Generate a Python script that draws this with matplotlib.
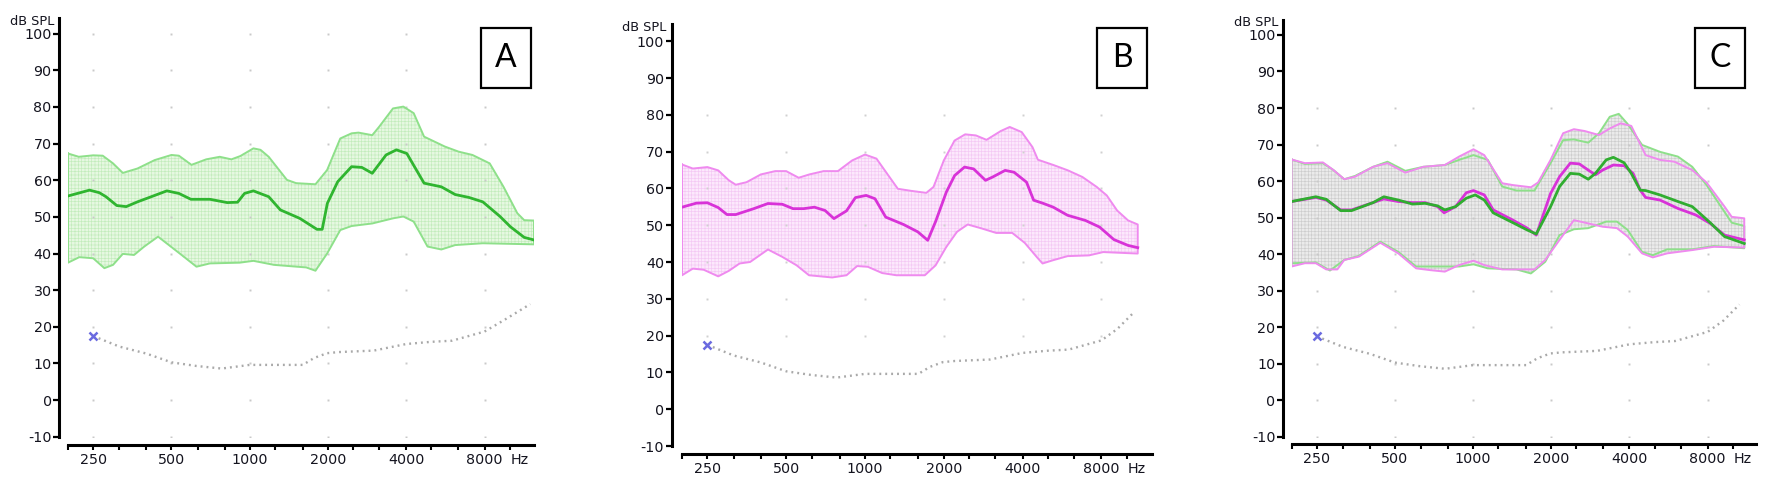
import matplotlib
matplotlib.use('Agg')
import matplotlib.pyplot as plt
from matplotlib.ticker import FixedLocator, FixedFormatter, NullLocator
from matplotlib.patches import Rectangle

plt.rcParams['font.family'] = ['DejaVu Sans']
plt.rcParams['hatch.linewidth'] = 0.45

# ---------------- data (Hz, dB SPL) ----------------
# panel A : green band
A_up_f = [200, 220, 250, 272, 298, 325, 370, 431, 500, 534, 597, 680, 767, 850, 920, 1033, 1100, 1183, 1390, 1510,
          1790, 1985, 2230, 2464, 2620, 2960, 3147, 3557, 3898, 4273, 4684, 5627, 6360, 7189, 8375, 9467, 10697, 11370, 12400]
A_up_db = [67.3, 66.4, 66.8, 66.7, 64.6, 62.0, 63.2, 65.5, 66.9, 66.7, 64.2, 65.7, 66.4, 65.7, 66.6, 68.7, 68.3, 66.4, 60.1, 59.2,
           58.9, 62.8, 71.4, 72.8, 73.0, 72.3, 74.6, 79.6, 80.1, 78.3, 71.9, 69.2, 67.8, 66.9, 64.6, 58.2, 51.0, 49.1, 49.0]
A_mid_f = [200, 242, 264, 280, 308, 335, 370, 418, 480, 534, 594, 703, 819, 898, 955, 1033, 1183, 1312, 1557, 1814,
           1900, 1989, 2180, 2464, 2700, 2960, 3345, 3667, 4020, 4684, 5458, 6168, 6970, 7878, 9181, 10063, 11370, 12400]
A_mid_db = [55.7, 57.3, 56.6, 55.5, 53.1, 52.8, 54.1, 55.5, 57.1, 56.4, 54.8, 54.8, 53.9, 54.0, 56.4, 57.1, 55.5, 51.9, 49.6, 46.6,
            46.6, 53.7, 59.6, 63.7, 63.5, 61.9, 66.9, 68.3, 67.3, 59.2, 58.2, 56.1, 55.3, 54.1, 50.1, 47.3, 44.4, 43.7]
A_lo_f = [200, 221, 250, 276, 298, 325, 359, 393, 444, 538, 624, 703, 915, 1033, 1240, 1650, 1790, 1985, 2230, 2464,
          2960, 3557, 3898, 4273, 4829, 5458, 6168, 7878, 12400]
A_lo_db = [37.5, 39.0, 38.7, 36.0, 36.9, 39.9, 39.6, 41.9, 44.6, 40.0, 36.4, 37.3, 37.5, 38.0, 36.9, 36.2, 35.3, 40.0, 46.4, 47.5,
           48.2, 49.6, 50.1, 48.7, 41.9, 41.1, 42.3, 42.8, 42.5]

# panel B : magenta band
B_up_f = [200, 220, 250, 275, 302, 321, 353, 400, 454, 500, 558, 613, 695, 788, 893, 1000, 1106, 1215, 1335, 1513,
          1715, 1827, 2000, 2198, 2414, 2652, 2913, 3302, 3572, 3970, 4365, 4576, 5274, 5960, 6771, 7678, 8384, 9185, 10115, 11010]
B_up_db = [66.5, 65.4, 65.8, 64.9, 62.2, 61.0, 61.7, 63.8, 64.7, 64.7, 62.9, 63.8, 64.7, 64.7, 67.6, 69.2, 68.1, 64.0, 59.9, 59.3,
           58.8, 60.4, 67.6, 73.0, 74.7, 74.4, 73.2, 75.6, 76.7, 75.3, 71.2, 67.8, 66.3, 64.9, 63.1, 60.4, 58.1, 54.0, 51.3, 50.2]
B_mid_f = [200, 227, 250, 275, 297, 321, 376, 426, 483, 531, 583, 641, 704, 761, 850, 919, 1010, 1092, 1200, 1403,
           1591, 1737, 1861, 2045, 2200, 2400, 2600, 2886, 3074, 3430, 3709, 4140, 4408, 4767, 5237, 5940, 6946, 7872, 8927, 10119, 11010]
B_mid_db = [54.9, 56.0, 56.1, 54.8, 52.9, 52.9, 54.5, 55.9, 55.7, 54.5, 54.5, 54.9, 54.0, 51.8, 53.9, 57.5, 58.1, 57.2, 52.2, 50.2,
            48.2, 45.9, 51.0, 59.0, 63.5, 65.8, 65.3, 62.2, 63.1, 64.9, 64.4, 61.7, 56.8, 56.0, 54.9, 52.7, 51.3, 49.5, 46.1, 44.5, 43.9]
B_lo_f = [200, 220, 242, 275, 302, 332, 364, 426, 483, 548, 611, 749, 850, 933, 1025, 1163, 1318, 1693, 1861, 2045,
          2246, 2468, 2797, 3171, 3652, 4076, 4550, 4767, 5237, 5940, 7170, 8127, 11010]
B_lo_db = [36.4, 38.2, 37.9, 36.1, 37.6, 39.6, 40.0, 43.4, 41.4, 39.1, 36.4, 35.8, 36.4, 38.9, 38.7, 37.0, 36.4, 36.4, 39.1, 44.1,
           48.2, 50.2, 49.1, 47.9, 47.9, 45.2, 41.2, 39.6, 40.5, 41.6, 41.8, 42.7, 42.3]

# panel C : both bands overlaid
Cm_up_f = [200, 225, 264, 290, 319, 351, 412, 468, 548, 643, 778, 883, 1003, 1104, 1294, 1423, 1669, 1778, 1987, 2221,
           2444, 2688, 3053, 3358, 3695, 4064, 4615, 5241, 5952, 6978, 7923, 9290, 9900, 11065]
Cm_up_db = [65.9, 64.9, 65.1, 63.0, 60.5, 61.2, 63.9, 64.9, 62.3, 63.9, 64.4, 66.7, 68.7, 67.1, 59.4, 58.9, 58.3, 59.6, 65.8, 73.1,
            74.2, 73.7, 72.6, 74.4, 75.8, 75.1, 67.1, 65.8, 65.3, 63.0, 59.6, 53.0, 50.2, 49.8]
Cg_up_f = [200, 225, 264, 290, 319, 351, 412, 468, 548, 643, 778, 883, 1003, 1139, 1294, 1469, 1723, 1987, 2221, 2444,
           2775, 3053, 3358, 3636, 3937, 4471, 5241, 6145, 6978, 7923, 9000, 9900, 11065]
Cg_up_db = [65.9, 64.7, 64.9, 63.0, 60.5, 61.4, 63.9, 65.3, 62.8, 63.9, 64.4, 65.8, 67.1, 65.8, 58.5, 57.4, 57.4, 64.9, 71.2, 71.4,
            70.5, 73.1, 77.6, 78.4, 75.6, 69.9, 68.0, 66.7, 63.9, 58.9, 53.0, 48.6, 47.7]
Cm_mid_f = [200, 248, 272, 309, 340, 412, 453, 515, 584, 653, 730, 773, 856, 941, 1003, 1104, 1195, 1423, 1616, 1750,
            1987, 2152, 2367, 2563, 2775, 2957, 3151, 3467, 3814, 4129, 4400, 4615, 5241, 6145, 7205, 8181, 9290, 11065]
Cm_mid_db = [54.4, 55.5, 54.8, 52.1, 52.1, 54.1, 55.1, 54.4, 54.1, 54.1, 53.0, 51.3, 53.0, 56.8, 57.4, 56.2, 52.1, 49.3, 47.1, 45.2,
             56.6, 61.2, 64.9, 64.7, 63.0, 61.7, 63.0, 64.4, 64.2, 62.1, 57.5, 55.5, 54.8, 52.5, 50.7, 48.4, 45.2, 43.9]
Cg_mid_f = [200, 248, 272, 309, 340, 412, 453, 515, 584, 653, 730, 778, 856, 941, 1019, 1104, 1195, 1423, 1616, 1750,
            1987, 2152, 2367, 2563, 2775, 2957, 3253, 3467, 3814, 4064, 4400, 4615, 5241, 6145, 6978, 8181, 9290, 11065]
Cg_mid_db = [54.4, 55.7, 55.0, 51.9, 51.9, 54.1, 55.7, 54.8, 53.7, 53.9, 53.2, 52.1, 53.0, 55.3, 56.2, 54.8, 51.3, 48.6, 46.6, 45.5,
             53.0, 58.5, 62.1, 61.9, 60.5, 62.1, 65.8, 66.5, 65.0, 62.1, 57.5, 57.4, 56.2, 54.4, 53.0, 48.6, 44.8, 42.9]
Cm_lo_f = [200, 225, 248, 272, 300, 319, 363, 439, 515, 603, 685, 778, 883, 1003, 1104, 1294, 1723, 1895, 2152, 2444,
           2775, 3151, 3579, 3937, 4471, 4918, 5585, 6978, 8445, 11065]
Cm_lo_db = [36.6, 37.5, 37.5, 35.8, 35.8, 38.4, 39.3, 43.1, 40.2, 36.1, 35.6, 35.2, 37.0, 38.2, 37.0, 35.8, 35.8, 38.4, 43.9, 49.3,
            48.4, 47.5, 47.1, 44.8, 40.2, 39.1, 40.2, 41.1, 42.0, 41.8]
Cg_lo_f = [200, 248, 281, 319, 363, 439, 515, 603, 685, 883, 1003, 1139, 1469, 1669, 1895, 2152, 2444, 2775, 3253, 3579,
           3937, 4471, 4918, 5585, 6978, 8445, 11065]
Cg_lo_db = [37.5, 37.7, 35.5, 38.4, 39.5, 43.4, 40.6, 36.6, 36.6, 36.6, 37.2, 36.1, 35.8, 34.7, 37.9, 45.2, 46.8, 47.1, 48.9, 48.9,
            46.6, 40.6, 39.7, 41.3, 41.3, 42.2, 41.6]

# threshold (dotted grey line, first point marked with x)
thr_f_a = [250, 264, 315, 400, 500, 624, 780, 1000, 1240, 1600, 1770, 1985, 2200, 3000, 4000, 5000, 6000, 8000, 9500, 12000]
thr_f_bc = [250, 264, 315, 400, 500, 624, 780, 1000, 1240, 1600, 1770, 1985, 2200, 3000, 4000, 5000, 6000, 8000, 9200, 10600]
thr_db = [17.5, 16.8, 14.6, 12.7, 10.3, 9.3, 8.6, 9.6, 9.6, 9.6, 11.5, 12.8, 13.1, 13.5, 15.3, 15.9, 16.2, 18.7, 21.8, 26.2]

tick_f = [200, 250, 315, 400, 500, 630, 800, 1000, 1250, 1600, 2000, 2500, 3150, 4000, 5000, 6300, 8000, 10000]
label_f = [250, 500, 1000, 2000, 4000, 8000]
y_ticks = list(range(-10, 101, 10))

W, H = 1792, 494
fig = plt.figure(figsize=(W / 100, H / 100), dpi=100)
PT = 0.72  # points per pixel at 100 dpi
TXT = '#14141f'


def px_axes(l, t, r, b):
    return fig.add_axes([l / W, 1 - b / H, (r - l) / W, (b - t) / H])


def setup(ax, xmax, ytop, off_l, off_b, grid_rows, grid_col):
    ax.set_xscale('log', base=2)
    ax.set_xlim(200, xmax)
    ax.set_ylim(-10, ytop)
    ax.patch.set_alpha(0)
    ax.spines['top'].set_visible(False)
    ax.spines['right'].set_visible(False)
    ax.spines['left'].set_position(('outward', off_l * PT))
    ax.spines['bottom'].set_position(('outward', off_b * PT))
    ax.spines['left'].set_linewidth(2.2)
    ax.spines['bottom'].set_linewidth(2.2)
    ax.xaxis.set_major_locator(FixedLocator(tick_f))
    ax.xaxis.set_major_formatter(FixedFormatter([str(f) if f in label_f else '' for f in tick_f]))
    ax.xaxis.set_minor_locator(NullLocator())
    ax.set_yticks(y_ticks)
    ax.set_yticklabels([str(v) for v in y_ticks])
    ax.tick_params(axis='y', direction='out', length=4.3, width=1.6, pad=1.2, labelsize=10.3, labelcolor=TXT)
    ax.tick_params(axis='x', direction='out', length=3.6, width=1.5, pad=2.2, labelsize=10.3, labelcolor=TXT)
    gx = [f for f in label_f for r in grid_rows]
    gy = [r for f in label_f for r in grid_rows]
    ax.plot(gx, gy, ls='none', marker='s', ms=1.4, mew=0, color=grid_col, zorder=2)
    ax.annotate('Hz', xy=(10100, 0), xycoords=('data', 'axes fraction'),
                xytext=(0, -(off_b + 8) * PT), textcoords='offset points',
                ha='left', va='top', fontsize=10.3, color=TXT, annotation_clip=False)


def ylabel(ax_left_px, off_l, top_px):
    fig.text((ax_left_px - off_l - 5) / W, 1 - (top_px + 6.5) / H, 'dB SPL',
             ha='right', va='baseline', fontsize=9.3, color=TXT)


def band(ax, uf, ud, lf, ld, face, mesh, z=1):
    xs = list(uf) + list(lf)[::-1]
    ys = list(ud) + list(ld)[::-1]
    ax.fill(xs, ys, facecolor=face, edgecolor=mesh, lw=0, hatch='+++++', zorder=z)
    return xs + [xs[0]], ys + [ys[0]]


def threshold(ax, tf):
    ax.plot(tf, thr_db, color='#a9a9a9', lw=1.7, ls=(0, (0.8, 1.7)), zorder=3)
    ax.plot(tf[0], thr_db[0], marker='x', ms=6, mew=1.8, color='#6a6ae0', zorder=4)


def label_box(l, t, r, b, letter):
    fig.add_artist(Rectangle((l / W, 1 - b / H), (r - l) / W, (b - t) / H, transform=fig.transFigure,
                             facecolor='white', edgecolor='black', lw=1.6, zorder=10))
    fig.text((l + r) / 2 / W, 1 - (t + b) / 2 / H, letter, ha='center', va='center',
             fontsize=23, family='Lato', color='black', zorder=11)


GREEN_E, GREEN_M = '#8ee08a', '#2fb52f'
MAG_E, MAG_M = '#ef8aef', '#d832d8'

# ---------------- panel A ----------------
axA = px_axes(68, 18.3, 534, 436.7)
setup(axA, 12400, 104.2, 8.7, 8.3, list(range(-10, 101, 10)), '#c9c9c9')
ex, ey = band(axA, A_up_f, A_up_db, A_lo_f, A_lo_db, '#e6f8e1', '#c2ecbb')
axA.plot(ex, ey, color=GREEN_E, lw=1.4, zorder=3)
axA.plot(A_mid_f, A_mid_db, color=GREEN_M, lw=2.0, zorder=4)
threshold(axA, thr_f_a)
ylabel(68, 8.7, 18.3)
label_box(480.7, 27.7, 531, 88.3, 'A')

# ---------------- panel B ----------------
axB = px_axes(682, 24.3, 1151.7, 446)
setup(axB, 12450, 104.6, 10.3, 8, list(range(20, 81, 10)), '#d0d0d0')
ex, ey = band(axB, B_up_f, B_up_db, B_lo_f, B_lo_db, '#fce8fc', '#f4c8f4')
axB.plot(ex, ey, color=MAG_E, lw=1.4, zorder=3)
axB.plot(B_mid_f, B_mid_db, color=MAG_M, lw=2.0, zorder=4)
threshold(axB, thr_f_bc)
ylabel(682, 10.3, 24.3)
label_box(1096.7, 27.7, 1147.3, 88.3, 'B')

# ---------------- panel C ----------------
axC = px_axes(1291.6, 20, 1756.2, 436.7)
setup(axC, 12300, 104.1, 8.6, 7.6, list(range(-10, 81, 10)), '#c9c9c9')
gx, gy = band(axC, Cg_up_f, Cg_up_db, Cg_lo_f, Cg_lo_db, '#ebebeb', '#cdcdcd')
mx, my = band(axC, Cm_up_f, Cm_up_db, Cm_lo_f, Cm_lo_db, '#ebebeb', '#cdcdcd')
axC.plot(gx, gy, color=GREEN_E, lw=1.4, zorder=3)
axC.plot(mx, my, color=MAG_E, lw=1.4, zorder=3)
axC.plot(Cm_mid_f, Cm_mid_db, color=MAG_M, lw=2.0, zorder=4)
axC.plot(Cg_mid_f, Cg_mid_db, color='#30ad30', lw=2.0, zorder=4)
threshold(axC, thr_f_bc)
ylabel(1291.6, 8.6, 20)
label_box(1694.5, 27.7, 1745.4, 88.3, 'C')

fig.savefig('out.png', dpi=100)
